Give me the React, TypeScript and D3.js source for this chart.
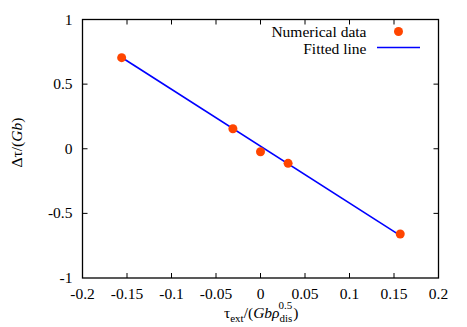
import React, { useEffect, useRef } from 'react';
import * as d3 from 'd3';

const dataX = [-0.156, -0.031, 0.0, 0.031, 0.157];
const dataY = [0.705, 0.155, -0.023, -0.113, -0.66];
const fitX = [-0.155, 0.155];
const fitY = [0.702, -0.662];
const xTicks = [-0.2, -0.15, -0.1, -0.05, 0, 0.05, 0.1, 0.15, 0.2];
const yTicks = [-1, -0.5, 0, 0.5, 1];

const W = 467;
const H = 327;
const margin = { left: 82.5, right: 28.5, top: 19.5, bottom: 49 };
const font = 'Liberation Serif, DejaVu Serif, serif';
const fs = 15.5;

const drawChart = (node: SVGSVGElement) => {
  const svg = d3.select(node);
  svg.selectAll('*').remove();
  svg.attr('font-family', font).attr('font-size', fs);

  const x = d3.scaleLinear().domain([-0.2, 0.2]).range([margin.left, W - margin.right]);
  const y = d3.scaleLinear().domain([-1, 1]).range([H - margin.bottom, margin.top]);
  const [x0, x1] = x.range();
  const [y0, y1] = y.range();
  const tl = 5;

  // ticks, mirrored on all sides, pointing inward
  const ticks = svg.append('g').attr('stroke', '#000').attr('stroke-width', 1);
  xTicks.slice(1, -1).forEach(t => {
    ticks.append('line').attr('x1', x(t)).attr('x2', x(t)).attr('y1', y0).attr('y2', y0 - tl);
    ticks.append('line').attr('x1', x(t)).attr('x2', x(t)).attr('y1', y1).attr('y2', y1 + tl);
  });
  yTicks.slice(1, -1).forEach(t => {
    ticks.append('line').attr('x1', x0).attr('x2', x0 + tl).attr('y1', y(t)).attr('y2', y(t));
    ticks.append('line').attr('x1', x1).attr('x2', x1 - tl).attr('y1', y(t)).attr('y2', y(t));
  });

  svg.append('rect')
    .attr('x', x0).attr('y', y1)
    .attr('width', x1 - x0).attr('height', y0 - y1)
    .attr('fill', 'none').attr('stroke', '#000').attr('stroke-width', 1.3);

  // tick labels
  svg.append('g').selectAll('text').data(xTicks).enter().append('text')
    .attr('x', d => x(d)).attr('y', y0 + 21)
    .attr('text-anchor', 'middle')
    .text(d => String(d));
  svg.append('g').selectAll('text').data(yTicks).enter().append('text')
    .attr('x', x0 - 10).attr('y', d => y(d) + 5)
    .attr('text-anchor', 'end')
    .text(d => String(d));

  // fitted line
  const line = d3.line<number>().x((d, i) => x(fitX[i])).y(d => y(d));
  svg.append('path')
    .datum(fitY)
    .attr('d', line)
    .attr('fill', 'none').attr('stroke', '#0000ff').attr('stroke-width', 1.6);

  // points
  svg.append('g').selectAll('circle').data(dataY).enter().append('circle')
    .attr('cx', (d, i) => x(dataX[i])).attr('cy', d => y(d))
    .attr('r', 4.5).attr('fill', '#ff4500');

  // legend
  const leg = svg.append('g');
  leg.append('text').attr('x', 366.5).attr('y', 37).attr('text-anchor', 'end').text('Numerical data');
  leg.append('circle').attr('cx', 398.5).attr('cy', 31.5).attr('r', 4.5).attr('fill', '#ff4500');
  leg.append('text').attr('x', 366.5).attr('y', 53.5).attr('text-anchor', 'end').text('Fitted line');
  leg.append('line').attr('x1', 377).attr('x2', 420).attr('y1', 47.5).attr('y2', 47.5)
    .attr('stroke', '#0000ff').attr('stroke-width', 1.6);

  // axis titles
  const yl = svg.append('text')
    .attr('transform', 'translate(22,142.5) rotate(-90)')
    .attr('text-anchor', 'middle');
  yl.append('tspan').text('Δτ/(');
  yl.append('tspan').attr('font-style', 'italic').text('Gb');
  yl.append('tspan').text(')');

  const xl = svg.append('text')
    .attr('x', 224).attr('y', 318);
  xl.append('tspan').text('τ');
  xl.append('tspan').attr('dy', 4).attr('font-size', 11).text('ext');
  xl.append('tspan').attr('dy', -4).text('/(');
  xl.append('tspan').attr('font-style', 'italic').text('Gb');
  xl.append('tspan').attr('font-style', 'italic').text('ρ');
  xl.append('tspan').attr('dy', 4).attr('font-size', 11).text('dis');
  xl.append('tspan').attr('dx', -14).attr('dy', -13).attr('font-size', 11).text('0.5');
  xl.append('tspan').attr('dx', 1).attr('dy', 9).text(')');
};

export default function App() {
  const ref = useRef<SVGSVGElement>(null);
  useEffect(() => {
    if (ref.current) drawChart(ref.current);
  }, []);
  return (
    <svg ref={ref} width={W} height={H}
      style={{ position: 'absolute', left: 0, top: 0, background: '#fff' }} />
  );
}
